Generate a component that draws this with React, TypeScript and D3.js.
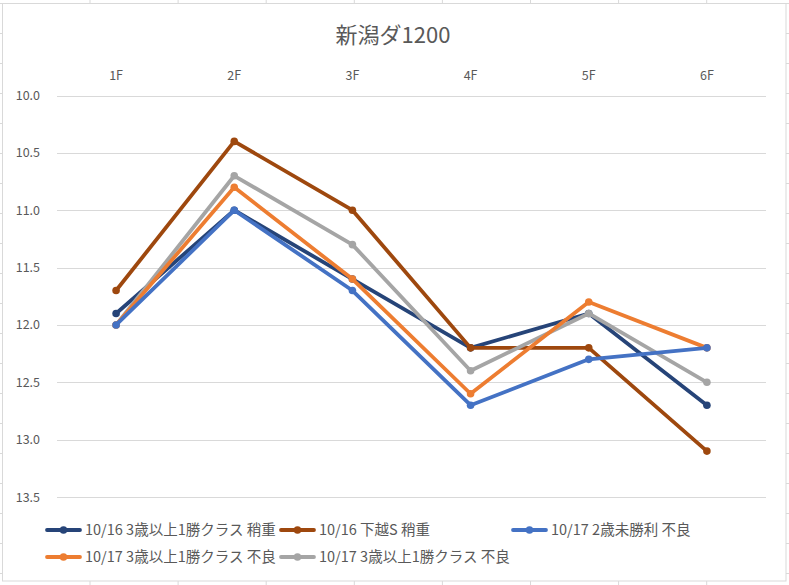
import React from "react";
import * as d3 from "d3";

const title = "新潟ダ1200";
const categories = ["1F", "2F", "3F", "4F", "5F", "6F"];
const yTicks = [10.0, 10.5, 11.0, 11.5, 12.0, 12.5, 13.0, 13.5];

const seriesNames = [
  "10/16 3歳以上1勝クラス 稍重",
  "10/16 下越S 稍重",
  "10/17 2歳未勝利 不良",
  "10/17 3歳以上1勝クラス 不良",
  "10/17 3歳以上1勝クラス 不良",
];
const s1 = [11.9, 11.0, 11.6, 12.2, 11.9, 12.7];
const s2 = [11.7, 10.4, 11.0, 12.2, 12.2, 13.1];
const s3 = [12.0, 11.0, 11.7, 12.7, 12.3, 12.2];
const s4 = [12.0, 10.8, 11.6, 12.6, 11.8, 12.2];
const s5 = [12.0, 10.7, 11.3, 12.4, 11.9, 12.5];
const seriesValues = [s1, s2, s3, s4, s5];
const colors = ["#264478", "#9E480E", "#4472C4", "#ED7D31", "#A5A5A5"];
// draw order: later drawn on top
const drawOrder = [0, 1, 4, 3, 2];

const W = 789;
const H = 585;
const FONT = "'Noto Sans CJK JP', 'Noto Sans', sans-serif";

export default function App() {
  const x = d3.scaleBand<string>().domain(categories).range([57, 766]);
  const y = d3.scaleLinear().domain([10, 13.5]).range([95.5, 497]);
  const line = d3
    .line<number>()
    .x((_, i) => (x(categories[i]) as number) + x.bandwidth() / 2)
    .y((d) => y(d));

  const colLines = d3.range(0, 9).map((k) => 90 + 88.1 * k);
  const rowLines = d3.range(0, 20).map((k) => 3.5 + 30 * k);

  const legendPos = [
    [47, 530],
    [281, 530],
    [513, 530],
    [47, 557],
    [281, 557],
  ];

  return (
    <svg
      width={W}
      height={H}
      style={{ position: "fixed", left: 0, top: 0, background: "#fff" }}
      fontFamily={FONT}
    >
      {colLines.map((cx, i) => (
        <line key={"c" + i} x1={cx} x2={cx} y1={0} y2={H} stroke="#d9d9d9" strokeWidth={1} />
      ))}
      {rowLines.map((ry, i) => (
        <line key={"r" + i} x1={0} x2={W} y1={ry} y2={ry} stroke="#d9d9d9" strokeWidth={1} />
      ))}
      <rect x={2.5} y={3.5} width={783.5} height={577.5} fill="#fff" stroke="#d9d9d9" strokeWidth={1} />

      <text x={393} y={43} textAnchor="middle" fontSize={22} fill="#595959">
        {title}
      </text>

      {yTicks.map((t) => (
        <g key={t}>
          <line x1={57} x2={766} y1={Math.round(y(t)) + 0.5} y2={Math.round(y(t)) + 0.5} stroke="#d9d9d9" strokeWidth={1} />
          <text x={40} y={y(t) + 4.5} textAnchor="end" fontSize={12.5} fill="#595959">
            {d3.format(".1f")(t)}
          </text>
        </g>
      ))}

      {categories.map((c) => (
        <text
          key={c}
          x={(x(c) as number) + x.bandwidth() / 2}
          y={80}
          textAnchor="middle"
          fontSize={12.5}
          fill="#595959"
        >
          {c}
        </text>
      ))}

      {drawOrder.map((si) => (
        <g key={si}>
          <path
            d={line(seriesValues[si]) || ""}
            fill="none"
            stroke={colors[si]}
            strokeWidth={3.8}
            strokeLinejoin="round"
            strokeLinecap="round"
          />
          {seriesValues[si].map((v, i) => (
            <circle
              key={i}
              cx={(x(categories[i]) as number) + x.bandwidth() / 2}
              cy={y(v)}
              r={3.8}
              fill={colors[si]}
            />
          ))}
        </g>
      ))}

      {seriesNames.map((n, i) => {
        const [lx, ly] = legendPos[i];
        return (
          <g key={i}>
            <line x1={lx} x2={lx + 33} y1={ly} y2={ly} stroke={colors[i]} strokeWidth={3.8} strokeLinecap="round" />
            <circle cx={lx + 16.5} cy={ly} r={3.8} fill={colors[i]} />
            <text x={lx + 38} y={ly + 5} fontSize={14.5} fill="#595959">
              {n}
            </text>
          </g>
        );
      })}
    </svg>
  );
}
